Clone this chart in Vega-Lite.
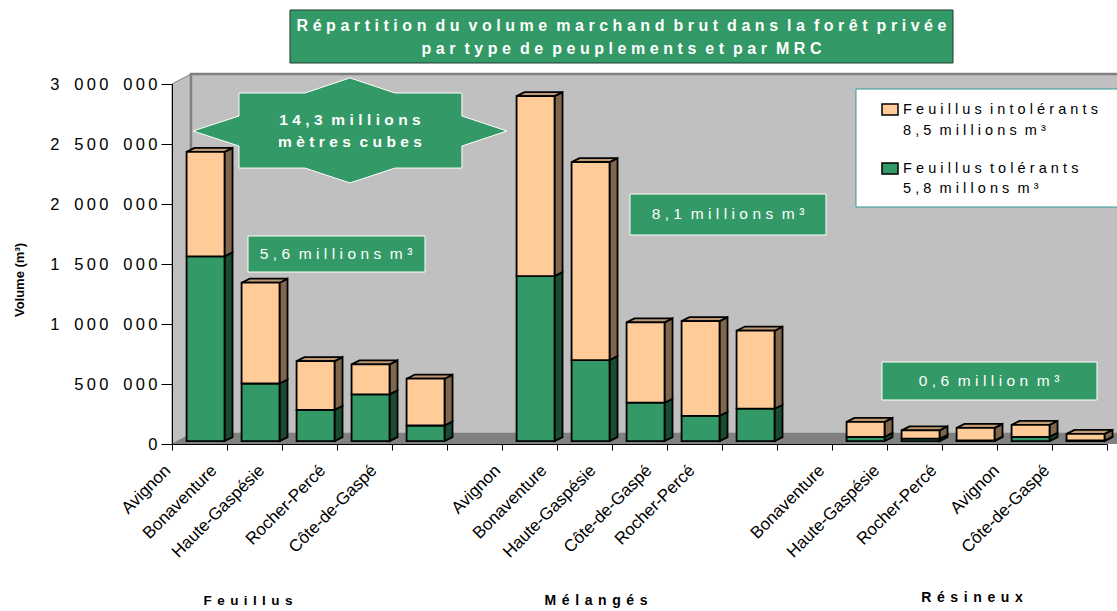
{
"$schema":"https://vega.github.io/schema/vega-lite/v6.json",
"width":935,"height":360,"autosize":"none",
"padding":{"left":172,"top":84,"right":10,"bottom":167},
"background":"white",
"config":{"view":{"stroke":null},"axis":{"grid":false},"text":{"font":"Liberation Sans"}},
"data":{"values":[
{"groupe":"Feuillus","mrc":"Avignon","slot":0,"tolerants":1540000,"intolerants":870000,"labelPos":-0.02},
{"groupe":"Feuillus","mrc":"Bonaventure","slot":1,"tolerants":480000,"intolerants":840000,"labelPos":0.82},
{"groupe":"Feuillus","mrc":"Haute-Gaspésie","slot":2,"tolerants":260000,"intolerants":407000,"labelPos":1.69},
{"groupe":"Feuillus","mrc":"Rocher-Percé","slot":3,"tolerants":390000,"intolerants":250000,"labelPos":2.8},
{"groupe":"Feuillus","mrc":"Côte-de-Gaspé","slot":4,"tolerants":130000,"intolerants":390000,"labelPos":3.73},
{"groupe":"Mélangés","mrc":"Avignon","slot":6,"tolerants":1375000,"intolerants":1500000,"labelPos":5.98},
{"groupe":"Mélangés","mrc":"Bonaventure","slot":7,"tolerants":675000,"intolerants":1650000,"labelPos":6.82},
{"groupe":"Mélangés","mrc":"Haute-Gaspésie","slot":8,"tolerants":320000,"intolerants":670000,"labelPos":7.71},
{"groupe":"Mélangés","mrc":"Côte-de-Gaspé","slot":9,"tolerants":210000,"intolerants":790000,"labelPos":8.73},
{"groupe":"Mélangés","mrc":"Rocher-Percé","slot":10,"tolerants":270000,"intolerants":650000,"labelPos":9.51},
{"groupe":"Résineux","mrc":"Bonaventure","slot":12,"tolerants":35000,"intolerants":125000,"labelPos":11.87},
{"groupe":"Résineux","mrc":"Haute-Gaspésie","slot":13,"tolerants":20000,"intolerants":70000,"labelPos":12.87},
{"groupe":"Résineux","mrc":"Rocher-Percé","slot":14,"tolerants":5000,"intolerants":105000,"labelPos":13.91},
{"groupe":"Résineux","mrc":"Avignon","slot":15,"tolerants":35000,"intolerants":100000,"labelPos":15.05},
{"groupe":"Résineux","mrc":"Côte-de-Gaspé","slot":16,"tolerants":5000,"intolerants":55000,"labelPos":15.96}
]},
"transform":[
{"calculate":"24000","as":"bot"},
{"calculate":"datum.bot+datum.tolerants","as":"mid"},
{"calculate":"datum.mid+datum.intolerants","as":"top"},
{"calculate":"datum.slot+0.265","as":"xl"},
{"calculate":"datum.slot+0.955","as":"xr"},
{"calculate":"[0,1]","as":"c"}
],
"layer":[
{"data":{"values":[{"c":0},{"c":1}]},"transform":[
{"calculate":"datum.c*0.345","as":"wx"},{"calculate":"datum.c*83333","as":"wy"},{"calculate":"3000000+datum.c*83333","as":"wy2"}],
"mark":{"type":"area","orient":"vertical","fill":"#c0c0c0","stroke":"#808080","strokeWidth":1},
"encoding":{"x":{"field":"wx","type":"quantitative","title":null,"scale":{"domain":[0,17],"nice":false,"zero":false},
"axis":{"values":[0,1,2,3,4,5,6,7,8,9,10,11,12,13,14,15,16,17],"labels":false,"tickSize":6,"tickColor":"black","domainColor":"black","zindex":1}},
"y":{"field":"wy","type":"quantitative","title":null,"scale":{"domain":[0,3000000],"nice":false,"zero":false},
"axis":{"values":[0,500000,1000000,1500000,2000000,2500000,3000000],"tickSize":11,"tickColor":"black","domainColor":"black","labelPadding":4,"labelFont":"Liberation Sans","labelFontSize":16.5,"labelColor":"black","zindex":1,
"labelExpr":"replace(replace(format(datum.value,','),regexp(',','g'),'\u2002'),regexp('(?<=.)(?=.)','g'),'\u2009')"}},
"y2":{"field":"wy2"}}},
{"data":{"values":[{}]},"transform":[],
"mark":{"type":"rect","fill":"#c0c0c0","stroke":"#808080","strokeWidth":2.5},
"encoding":{
"x":{"datum":0.345,"type":"quantitative","title":null},
"x2":{"datum":17.4},
"y":{"datum":83333,"type":"quantitative","title":null},
"y2":{"datum":3083333}}},
{"data":{"values":[{"c":0},{"c":1}]},"transform":[
{"calculate":"datum.c*0.345","as":"fx"},{"calculate":"17.4","as":"fx2"},{"calculate":"datum.c*83333","as":"fy"}],
"mark":{"type":"area","orient":"horizontal","fill":"#808080"},
"encoding":{"y":{"field":"fy","type":"quantitative","title":null},"x":{"field":"fx","type":"quantitative","title":null},"x2":{"field":"fx2"}}},
{"transform":[{"flatten":["c"]},
{"calculate":"datum.xr+datum.c*0.1455","as":"sx"},{"calculate":"datum.bot+datum.c*33333","as":"sa"},{"calculate":"datum.mid+datum.c*33333","as":"sb"}],
"mark":{"type":"area","orient":"vertical","fill":"#194c33","stroke":"black","strokeWidth":1.8},
"encoding":{"x":{"field":"sx","type":"quantitative","title":null},"y":{"field":"sa","type":"quantitative","title":null},"y2":{"field":"sb"},"detail":{"field":"slot"}}},
{"transform":[{"flatten":["c"]},
{"calculate":"datum.xr+datum.c*0.1455","as":"sx"},{"calculate":"datum.mid+datum.c*33333","as":"sa"},{"calculate":"datum.top+datum.c*33333","as":"sb"}],
"mark":{"type":"area","orient":"vertical","fill":"#7f664c","stroke":"black","strokeWidth":1.8},
"encoding":{"x":{"field":"sx","type":"quantitative","title":null},"y":{"field":"sa","type":"quantitative","title":null},"y2":{"field":"sb"},"detail":{"field":"slot"}}},
{"transform":[{"flatten":["c"]},
{"calculate":"datum.top+datum.c*33333","as":"ty"},{"calculate":"datum.xl+datum.c*0.1455","as":"tx"},{"calculate":"datum.xr+datum.c*0.1455","as":"tx2"}],
"mark":{"type":"area","orient":"horizontal","fill":"#bf9973","stroke":"black","strokeWidth":1.8},
"encoding":{"y":{"field":"ty","type":"quantitative","title":null},"x":{"field":"tx","type":"quantitative","title":null},"x2":{"field":"tx2"},"detail":{"field":"slot"}}},
{"mark":{"type":"rect","fill":"#339966","stroke":"black","strokeWidth":1.8},
"encoding":{"x":{"field":"xl","type":"quantitative","title":null},"x2":{"field":"xr"},"y":{"field":"bot","type":"quantitative","title":null},"y2":{"field":"mid"}}},
{"mark":{"type":"rect","fill":"#ffcc99","stroke":"black","strokeWidth":1.8},
"encoding":{"x":{"field":"xl","type":"quantitative","title":null},"x2":{"field":"xr"},"y":{"field":"mid","type":"quantitative","title":null},"y2":{"field":"top"}}},
{"mark":{"type":"text","align":"right","baseline":"middle","angle":315,"fontSize":17,"color":"black","xOffset":-3,"yOffset":3},
"encoding":{"x":{"field":"labelPos","type":"quantitative","title":null},"y":{"datum":-175000,"type":"quantitative","title":null},"text":{"field":"mrc"}}},

{"data":{"values":[{}]},"transform":[],"mark":{"type":"rect","fill":"#339966","stroke":"#1f3d2e","strokeWidth":1},
"encoding":{"x":{"datum":2.145,"type":"quantitative"},"x2":{"datum":14.2},"y":{"datum":3616667,"type":"quantitative"},"y2":{"datum":3175000}}},
{"data":{"values":[{"t":"Répartition du volume marchand brut dans la forêt privée\npar type de peuplements et par MRC"}]},
"transform":[{"calculate":"replace(datum.t,regexp('(?<=.)(?=\\\\S)','g'),'\u2009\u200a')","as":"s"}],
"mark":{"type":"text","lineBreak":"\n","lineHeight":23,"align":"center","baseline":"middle","fontWeight":"bold","fontSize":16,"color":"white"},
"encoding":{"x":{"datum":8.173,"type":"quantitative"},"y":{"datum":3483333,"type":"quantitative"},"text":{"field":"s"}}},

{"data":{"values":[{}]},"transform":[],
"mark":{"type":"point","filled":true,"fill":"#339966","fillOpacity":1,"stroke":"white","strokeWidth":1,"strokeOpacity":1,"size":98596,
"shape":"M0,-0.338L0.287,-0.242L0.713,-0.242L0.713,-0.0955L1,0L0.713,0.0955L0.713,0.236L0.287,0.236L0,0.331L-0.287,0.236L-0.707,0.236L-0.707,0.0955L-1,0L-0.707,-0.0955L-0.707,-0.242L-0.287,-0.242Z"},
"encoding":{"x":{"datum":3.236,"type":"quantitative"},"y":{"datum":2608333,"type":"quantitative"}}},
{"data":{"values":[{"t":"14,3 millions\nmètres cubes"}]},
"transform":[{"calculate":"replace(datum.t,regexp('(?<=.)(?=\\\\S)','g'),'\u2009\u200a')","as":"s"}],
"mark":{"type":"text","lineBreak":"\n","lineHeight":22,"align":"center","baseline":"middle","fontWeight":"bold","fontSize":15.5,"color":"white"},
"encoding":{"x":{"datum":3.236,"type":"quantitative"},"y":{"datum":2700000,"type":"quantitative"},"text":{"field":"s"}}},

{"data":{"values":[{}]},"transform":[],"mark":{"type":"rect","fill":"#339966","stroke":"white","strokeWidth":1},
"encoding":{"x":{"datum":1.382,"type":"quantitative"},"x2":{"datum":4.6},"y":{"datum":1733333,"type":"quantitative"},"y2":{"datum":1433333}}},
{"data":{"values":[{"t":"5,6 millions m³"}]},
"transform":[{"calculate":"replace(datum.t,regexp('(?<=.)(?=\\\\S)','g'),'\u2009\u200a')","as":"s"}],
"mark":{"type":"text","align":"center","baseline":"middle","fontSize":15.5,"color":"white"},
"encoding":{"x":{"datum":2.982,"type":"quantitative"},"y":{"datum":1583333,"type":"quantitative"},"text":{"field":"s"}}},

{"data":{"values":[{}]},"transform":[],"mark":{"type":"rect","fill":"#339966","stroke":"white","strokeWidth":1},
"encoding":{"x":{"datum":8.327,"type":"quantitative"},"x2":{"datum":11.891},"y":{"datum":2083333,"type":"quantitative"},"y2":{"datum":1741667}}},
{"data":{"values":[{"t":"8,1 millions m³"}]},
"transform":[{"calculate":"replace(datum.t,regexp('(?<=.)(?=\\\\S)','g'),'\u2009\u200a')","as":"s"}],
"mark":{"type":"text","align":"center","baseline":"middle","fontSize":15.5,"color":"white"},
"encoding":{"x":{"datum":10.109,"type":"quantitative"},"y":{"datum":1916667,"type":"quantitative"},"text":{"field":"s"}}},

{"data":{"values":[{}]},"transform":[],"mark":{"type":"rect","fill":"#339966","stroke":"white","strokeWidth":1},
"encoding":{"x":{"datum":12.909,"type":"quantitative"},"x2":{"datum":16.818},"y":{"datum":683333,"type":"quantitative"},"y2":{"datum":366667}}},
{"data":{"values":[{"t":"0,6 million m³"}]},
"transform":[{"calculate":"replace(datum.t,regexp('(?<=.)(?=\\\\S)','g'),'\u2009\u200a')","as":"s"}],
"mark":{"type":"text","align":"center","baseline":"middle","fontSize":15.5,"color":"white"},
"encoding":{"x":{"datum":14.855,"type":"quantitative"},"y":{"datum":525000,"type":"quantitative"},"text":{"field":"s"}}},

{"data":{"values":[{}]},"transform":[],"mark":{"type":"rect","fill":"white","stroke":"#339999","strokeWidth":1},
"encoding":{"x":{"datum":12.436,"type":"quantitative"},"x2":{"datum":17.4},"y":{"datum":2958333,"type":"quantitative"},"y2":{"datum":1975000}}},
{"data":{"values":[{}]},"transform":[],"mark":{"type":"rect","fill":"#ffcc99","stroke":"black","strokeWidth":1.5},
"encoding":{"x":{"datum":12.909,"type":"quantitative"},"x2":{"datum":13.2},"y":{"datum":2833333,"type":"quantitative"},"y2":{"datum":2741667}}},
{"data":{"values":[{}]},"transform":[],"mark":{"type":"rect","fill":"#339966","stroke":"black","strokeWidth":1.5},
"encoding":{"x":{"datum":12.909,"type":"quantitative"},"x2":{"datum":13.2},"y":{"datum":2341667,"type":"quantitative"},"y2":{"datum":2250000}}},
{"data":{"values":[{"t":"Feuillus intolérants\n8,5 millions m³"}]},
"transform":[{"calculate":"replace(datum.t,regexp('(?<=.)(?=\\\\S)','g'),'\u2009\u200a')","as":"s"}],
"mark":{"type":"text","lineBreak":"\n","lineHeight":21,"align":"left","baseline":"middle","fontSize":14.5,"color":"black"},
"encoding":{"x":{"datum":13.291,"type":"quantitative"},"y":{"datum":2783333,"type":"quantitative"},"text":{"field":"s"}}},
{"data":{"values":[{"t":"Feuillus tolérants\n5,8 millons m³"}]},
"transform":[{"calculate":"replace(datum.t,regexp('(?<=.)(?=\\\\S)','g'),'\u2009\u200a')","as":"s"}],
"mark":{"type":"text","lineBreak":"\n","lineHeight":20,"align":"left","baseline":"middle","fontSize":14.5,"color":"black"},
"encoding":{"x":{"datum":13.291,"type":"quantitative"},"y":{"datum":2291667,"type":"quantitative"},"text":{"field":"s"}}},

{"data":{"values":[{"t":"Volume (m³)"}]},"transform":[],
"mark":{"type":"text","angle":270,"align":"center","baseline":"middle","fontWeight":"bold","fontSize":13,"color":"black"},
"encoding":{"x":{"datum":-2.764,"type":"quantitative"},"y":{"datum":1366667,"type":"quantitative"},"text":{"field":"t"}}},
{"data":{"values":[{"t":"Feuillus"}]},
"transform":[{"calculate":"replace(datum.t,regexp('(?<=.)(?=.)','g'),'\u2009\u2009')","as":"s"}],
"mark":{"type":"text","align":"center","baseline":"middle","fontWeight":"bold","fontSize":13.5,"color":"black"},
"encoding":{"x":{"datum":1.382,"type":"quantitative"},"y":{"datum":-1308333,"type":"quantitative"},"text":{"field":"s"}}},
{"data":{"values":[{"t":"Mélangés"}]},
"transform":[{"calculate":"replace(datum.t,regexp('(?<=.)(?=.)','g'),'\u2009\u2009')","as":"s"}],
"mark":{"type":"text","align":"center","baseline":"middle","fontWeight":"bold","fontSize":14,"color":"black"},
"encoding":{"x":{"datum":7.709,"type":"quantitative"},"y":{"datum":-1308333,"type":"quantitative"},"text":{"field":"s"}}},
{"data":{"values":[{"t":"Résineux"}]},
"transform":[{"calculate":"replace(datum.t,regexp('(?<=.)(?=.)','g'),'\u2009\u2009')","as":"s"}],
"mark":{"type":"text","align":"center","baseline":"middle","fontWeight":"bold","fontSize":14,"color":"black"},
"encoding":{"x":{"datum":14.545,"type":"quantitative"},"y":{"datum":-1283333,"type":"quantitative"},"text":{"field":"s"}}}
]
}
